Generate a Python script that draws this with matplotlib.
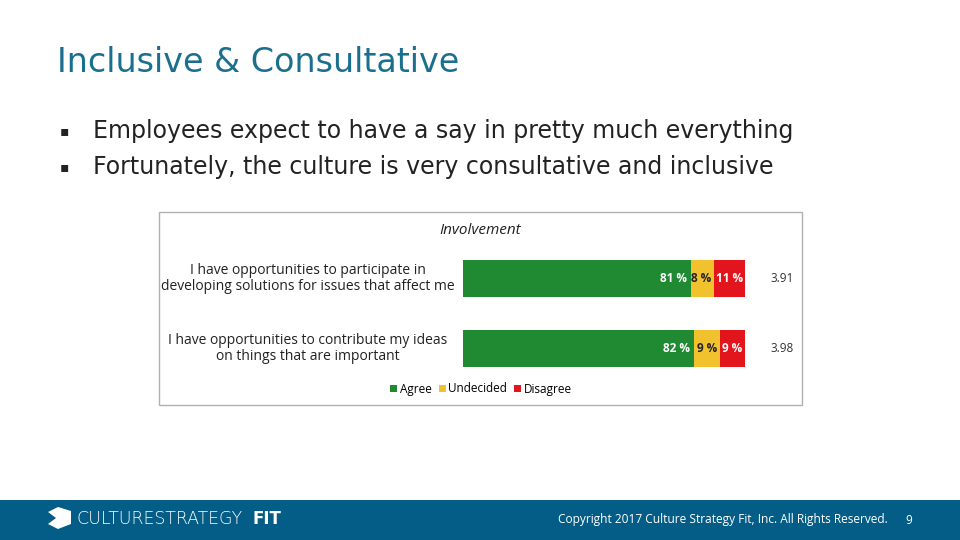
import matplotlib
matplotlib.use("Agg")
import matplotlib.pyplot as plt
from matplotlib.patches import Rectangle, Polygon

questions = ["I have opportunities to participate in\ndeveloping solutions for issues that affect me",
             "I have opportunities to contribute my ideas\non things that are important"]
agree = [81, 82]
undecided = [8, 9]
disagree = [11, 9]
means = ["3.91", "3.98"]
series_names = ["Agree", "Undecided", "Disagree"]
colors = ["#1f8a32", "#f2c12e", "#e2141c"]

W, H = 960, 540
fig = plt.figure(figsize=(9.6, 5.4), dpi=100)
fig.patch.set_facecolor("white")
bg = fig.add_axes([0, 0, 1, 1]); bg.set_xlim(0, W); bg.set_ylim(H, 0); bg.axis("off")

bg.text(57, 63, "Inclusive & Consultative", fontsize=24, color="#1b6f8e", va="center", family="DejaVu Sans")
for y, t in [(131, "Employees expect to have a say in pretty much everything"),
             (167, "Fortunately, the culture is very consultative and inclusive")]:
    bg.text(60, y, "▪", fontsize=10, va="center", color="#222222")
    bg.text(93, y, t, fontsize=17, va="center", color="#222222", family="DejaVu Sans")

# chart frame
bg.add_patch(Rectangle((159, 212), 643, 193, facecolor="white", edgecolor="#b0b0b0", lw=1))
bg.text(480, 230, "Involvement", fontsize=11, style="italic", ha="center", va="center", color="#222222", family="Open Sans")

# footer
bg.add_patch(Rectangle((0, 500), W, 40, facecolor="#035d86", edgecolor="none"))
bg.add_patch(Polygon([(48, 512), (58, 507), (71, 511), (71, 524), (58, 529), (48, 524), (56, 518)], facecolor="white", edgecolor="none"))
bg.text(76, 519, "CULTURESTRATEGY", fontsize=12.5, color="white", va="center", family="DejaVu Sans", fontweight="light")
bg.text(252, 519, "FIT", fontsize=12, color="white", va="center", fontweight="bold")
bg.text(558, 520, "Copyright 2017 Culture Strategy Fit, Inc. All Rights Reserved.", fontsize=8.6, color="white", va="center", family="Open Sans")
bg.text(905, 520, "9", fontsize=8.6, color="white", va="center", family="Open Sans")

ax = fig.add_axes([463/W, 1-377/H, 282/W, 127/H])
ypos = list(range(len(questions)))
lefts = [0]*len(questions)
txtcol = ["white", "#222222", "white"]
for name, vals, c, tc in zip(series_names, [agree, undecided, disagree], colors, txtcol):
    ax.barh(ypos, vals, left=lefts, height=0.53, color=c, label=name)
    for i, v in enumerate(vals):
        x = lefts[i] + v
        ax.text(x - 0.8 if name != "Agree" else x - 1.5, i, f"{v} %", ha="right", va="center",
                fontsize=8.5, fontweight="bold", color=tc, family="Open Sans")
    lefts = [l + v for l, v in zip(lefts, vals)]
ax.set_xlim(0, 100)
ax.set_ylim(1 + 28.5/70, -28.5/70)
ax.axis("off")
for i, q in enumerate(questions):
    ax.text(-55, i, q, ha="center", va="center", fontsize=10, color="#222222", family="Open Sans", linespacing=1.15)
    ax.text(109, i, means[i], ha="left", va="center", fontsize=8.5, color="#333333", family="Open Sans")

leg = fig.legend(loc="center", bbox_to_anchor=(481/W, 1-389/H), ncol=3, frameon=False,
                 prop={"family": "Open Sans", "size": 8.5}, handlelength=0.6, handleheight=0.6,
                 handletextpad=0.2, columnspacing=0.6)
fig.savefig("out.png", dpi=100)
